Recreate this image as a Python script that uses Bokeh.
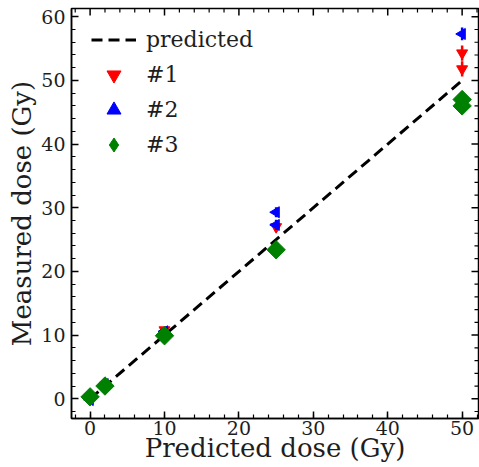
import math
from bokeh.plotting import figure
from bokeh.models import (ColumnDataSource, Range1d, LinearAxis, SingleIntervalTicker,
                          Legend, LegendItem)
from bokeh.embed import file_html
from bokeh.resources import INLINE

# ---- data ----
pred_x = [0, 2, 10, 25, 50]
pred_y = [0, 2, 10, 25, 50]

s1_x = [0, 2, 10, 25, 50, 50]
s1_y = [0.2, 2.1, 10.8, 27.0, 54.3, 51.8]
s1_err = [0.3, 0.3, 0.5, 0.8, 1.2, 1.2]

s2_x = [0, 2, 10, 25, 25, 50]
s2_y = [-0.2, 2.3, 10.6, 29.3, 27.3, 57.3]
s2_err = [0.3, 0.3, 0.5, 0.8, 0.8, 1.0]

s3_x = [0, 2, 10, 25, 50, 50]
s3_y = [0.3, 2.0, 9.9, 23.4, 47.0, 46.0]
s3_err = [0.3, 0.3, 0.4, 0.6, 0.8, 0.8]

major_x = [0, 10, 20, 30, 40, 50]
major_y = [0, 10, 20, 30, 40, 50, 60]
minor_x = [-2, 2, 4, 6, 8, 12, 14, 16, 18, 22, 24, 26, 28, 32, 34, 36, 38, 42, 44, 46, 48, 52]
minor_y = [-2, 2, 4, 6, 8, 12, 14, 16, 18, 22, 24, 26, 28, 32, 34, 36, 38, 42, 44, 46, 48, 52,
           54, 56, 58]

x_label = "Predicted dose (Gy)"
y_label = "Measured dose (Gy)"
legend_labels = ["predicted", "#1", "#2", "#3"]

X0, X1 = -2.5, 52.2
Y0, Y1 = -3.1, 61.3

FONT = "DejaVu Serif"
TXT = "#1e1e1e"

W, H = 479, 467
BL, BR, BT, BB = 71, 1, 8, 49

p = figure(width=W, height=H, output_backend="svg", toolbar_location=None,
           x_range=Range1d(X0, X1), y_range=Range1d(Y0, Y1),
           min_border_left=BL, min_border_right=BR, min_border_top=BT, min_border_bottom=BB,
           x_axis_type=None, y_axis_type=None)
p.grid.visible = False
p.outline_line_color = "black"
p.outline_line_width = 1.5
p.background_fill_color = "white"
p.border_fill_color = "white"


def style_axis(ax):
    ax.axis_line_color = "black"
    ax.axis_line_width = 1.5
    ax.major_tick_in = 7
    ax.major_tick_out = 0
    ax.minor_tick_in = 4
    ax.minor_tick_out = 0
    ax.major_tick_line_width = 1.5
    ax.minor_tick_line_width = 1.2
    ax.major_tick_line_color = "black"
    ax.minor_tick_line_color = "black"
    ax.major_label_text_font = FONT
    ax.major_label_text_font_size = "19px"
    ax.major_label_text_color = TXT
    ax.axis_label_text_font = FONT
    ax.axis_label_text_font_style = "normal"
    ax.axis_label_text_font_size = "26px"
    ax.axis_label_text_color = TXT


xb = LinearAxis(ticker=SingleIntervalTicker(interval=10, num_minor_ticks=5), axis_label=x_label)
style_axis(xb)
xb.major_label_standoff = 2
xb.axis_label_standoff = -5
p.add_layout(xb, "below")

yl = LinearAxis(ticker=SingleIntervalTicker(interval=10, num_minor_ticks=5), axis_label=y_label)
style_axis(yl)
yl.major_label_standoff = 6
yl.axis_label_standoff = 1
p.add_layout(yl, "left")

# mirrored inward ticks on the top and right edges
px_x = (W - BL - BR) / (X1 - X0)   # pixels per x unit
px_y = (H - BT - BB) / (Y1 - Y0)   # pixels per y unit
for xs, ln, lw in ((major_x, 7, 1.5), (minor_x, 4, 1.2)):
    p.segment(x0=xs, y0=[Y1] * len(xs), x1=xs, y1=[Y1 - ln / px_y] * len(xs),
              line_color="black", line_width=lw)
for ys, ln, lw in ((major_y, 7, 1.5), (minor_y, 4, 1.2)):
    p.segment(x0=[X1] * len(ys), y0=ys, x1=[X1 - ln / px_x] * len(ys), y1=ys,
              line_color="black", line_width=lw)

# predicted line
line_r = p.line(pred_x, pred_y, line_color="black", line_width=3, line_dash="11 6")


def series(xs, ys, errs, color, marker, size, angle=0.0, legend_marker=None):
    src = ColumnDataSource(dict(x=xs, y=ys,
                                lo=[a - b for a, b in zip(ys, errs)],
                                hi=[a + b for a, b in zip(ys, errs)]))
    p.segment(x0="x", y0="lo", x1="x", y1="hi", source=src, line_color=color, line_width=2.5)
    r = p.scatter(x="x", y="y", source=src, marker=marker, size=size, angle=angle,
                  fill_color=color, line_color=color, line_width=1)
    if legend_marker is not None:
        # legend-only glyph (zero size in the plot area)
        r = p.scatter(x="x", y="y", source=src, marker=legend_marker, size=0,
                      fill_color=color, line_color=color, line_width=1)
    return r


r1 = series(s1_x, s1_y, s1_err, "red", "inverted_triangle", 11)
r2 = series(s2_x, s2_y, s2_err, "blue", "triangle", 11, angle=math.pi / 2)
r3 = series(s3_x, s3_y, s3_err, "green", "square", 13, angle=math.pi / 4,
            legend_marker="diamond")

legend = Legend(items=[
    LegendItem(label=legend_labels[0], renderers=[line_r]),
    LegendItem(label=legend_labels[1], renderers=[r1]),
    LegendItem(label=legend_labels[2], renderers=[r2]),
    LegendItem(label=legend_labels[3], renderers=[r3]),
], location=(20, 256))
legend.border_line_color = None
legend.background_fill_alpha = 0
legend.label_text_font = FONT
legend.label_text_font_size = "22px"
legend.label_text_color = TXT
legend.glyph_width = 45
legend.glyph_height = 35
legend.label_height = 35
legend.label_standoff = 10
legend.spacing = 0
legend.margin = 0
legend.padding = 4
p.add_layout(legend)

open("out.html", "w").write(file_html(p, INLINE))
